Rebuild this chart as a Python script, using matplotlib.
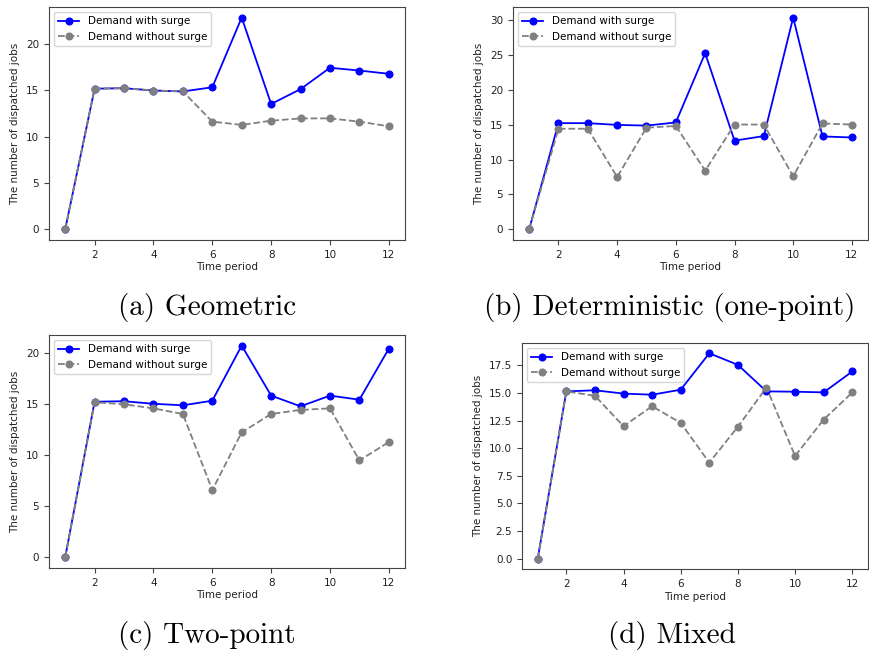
import numpy as np
import matplotlib
matplotlib.use('Agg')
import matplotlib.pyplot as plt

plt.rcParams.update({'font.size': 7.5, 'axes.edgecolor': '#444444',
                     'xtick.color': '#444444', 'ytick.color': '#444444',
                     'xtick.labelcolor': '#222222', 'ytick.labelcolor': '#222222',
                     'axes.labelcolor': '#222222'})

periods = list(range(1, 13))

# (a) Geometric
geo_surge = [0, 15.15, 15.2, 14.95, 14.85, 15.3, 22.8, 13.5, 15.1, 17.4, 17.1, 16.75]
geo_plain = [0, 15.15, 15.2, 14.95, 14.85, 11.6, 11.25, 11.7, 11.95, 11.95, 11.6, 11.1]

# (b) Deterministic (one-point)
det_surge = [0, 15.2, 15.2, 14.95, 14.85, 15.3, 25.2, 12.7, 13.35, 30.3, 13.3, 13.15]
det_plain = [0, 14.4, 14.4, 7.5, 14.55, 14.8, 8.4, 15.0, 15.0, 7.6, 15.15, 15.0]

# (c) Two-point
two_surge = [0, 15.25, 15.3, 15.05, 14.9, 15.35, 20.75, 15.85, 14.8, 15.85, 15.45, 20.45]
two_plain = [0, 15.2, 15.0, 14.6, 14.05, 6.6, 12.25, 14.05, 14.45, 14.6, 9.5, 11.3]

# (d) Mixed
mix_surge = [0, 15.15, 15.25, 14.95, 14.85, 15.3, 18.6, 17.55, 15.15, 15.12, 15.06, 16.95]
mix_plain = [0, 15.15, 14.75, 12.0, 13.8, 12.3, 8.7, 11.95, 15.5, 9.3, 12.6, 15.05]

captions = ['(a) Geometric', '(b) Deterministic (one-point)', '(c) Two-point', '(d) Mixed']
series = [(geo_surge, geo_plain), (det_surge, det_plain),
          (two_surge, two_plain), (mix_surge, mix_plain)]

W, H = 869, 655
# axes boxes in pixels: left, top, right, bottom
boxes = [(49, 7, 405, 240), (513, 7, 868, 240),
         (49, 335, 405, 568), (522, 343, 868, 569)]
caption_pos = [(207, 307), (670, 307), (207, 635), (672, 635)]

fig = plt.figure(figsize=(W / 100, H / 100), dpi=100)

for (surge, plain), (l, t, r, b), cap, (cx, cy) in zip(series, boxes, captions, caption_pos):
    ax = fig.add_axes([l / W, 1 - b / H, (r - l) / W, (b - t) / H])
    ax.plot(periods, surge, color='blue', marker='o', markersize=4.8, lw=1.3,
            label='Demand with surge')
    ax.plot(periods, plain, color='gray', marker='o', markersize=4.8, lw=1.3,
            linestyle='--', label='Demand without surge')
    ax.set_xticks([2, 4, 6, 8, 10, 12])
    ax.set_xlabel('Time period', labelpad=2)
    ax.set_ylabel('The number of dispatched jobs', labelpad=4)
    ax.legend(loc='upper left', fontsize=7.5)
    fig.text(cx / W, 1 - cy / H, cap, ha='center', va='center',
             fontfamily='cmr10', fontsize=21)

fig.savefig('out.png', dpi=100)
